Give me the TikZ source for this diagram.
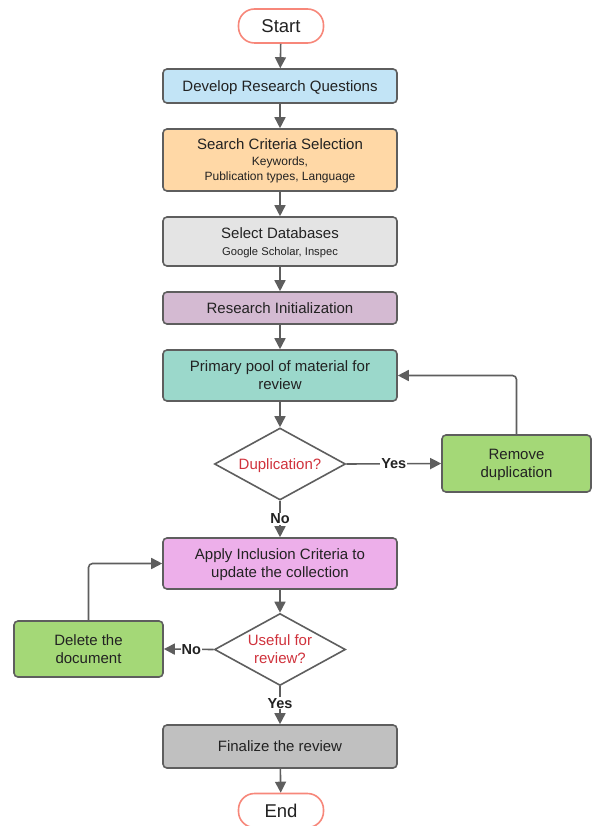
\documentclass[tikz,border=0pt]{standalone}
\usepackage{fontspec}
\setmainfont{Liberation Sans}
\usetikzlibrary{shapes.geometric,arrows.meta}
\definecolor{edgegray}{HTML}{5E5E5E}
\definecolor{txt}{HTML}{222222}
\definecolor{salmon}{HTML}{F7877A}
\definecolor{cblue}{HTML}{C2E4F6}
\definecolor{corange}{HTML}{FFD8A6}
\definecolor{cgray}{HTML}{E4E4E4}
\definecolor{cpurple}{HTML}{D4BAD2}
\definecolor{cteal}{HTML}{9BD8CB}
\definecolor{cgreen}{HTML}{A4D877}
\definecolor{cpink}{HTML}{EDAFEA}
\definecolor{cdark}{HTML}{C0C0C0}
\definecolor{qred}{HTML}{D0323C}
\tikzset{
  procbox/.style={draw=edgegray, line width=1.6pt, rounded corners=4pt, minimum width=234pt, minimum height=#1, inner sep=2pt, text depth=0pt, align=center, text=txt, font=\fontsize{15}{18}\selectfont},
  sidebox/.style={draw=edgegray, fill=cgreen, line width=1.6pt, rounded corners=4pt, minimum width=149pt, minimum height=#1, inner sep=2pt, text depth=0pt, align=center, text=txt, font=\fontsize{15}{18}\selectfont},
  terminal/.style={draw=salmon, fill=white, line width=1.6pt, rounded corners=16pt, minimum width=85pt, minimum height=34pt, inner sep=0pt, text depth=0pt, text=txt, font=\fontsize{18.5}{21}\selectfont},
  decision/.style={diamond, draw=edgegray, fill=white, line width=1.6pt, aspect=1.8, minimum width=131pt, minimum height=72pt, inner sep=0pt, text depth=0pt, align=center, text=qred, font=\fontsize{15}{18}\selectfont},
  flow/.style={draw=edgegray, line width=1.6pt, -{Triangle[length=11pt,width=11pt]}},
  lbl/.style={fill=white, inner sep=1pt, text=txt, font=\bfseries\fontsize{14.5}{16}\selectfont}
}
\begin{document}
\begin{tikzpicture}[x=1pt,y=-1pt]
\useasboundingbox (0,0) rectangle (593,826);
\clip (0,0) rectangle (593,826);
\node[terminal] (start) at (281,26) {Start};
\node[procbox=34pt, fill=cblue] (develop) at (280,86) {Develop Research Questions};
\node[procbox=62pt, fill=corange] (search) at (280,160) {Search Criteria Selection\\[-2pt]{\fontsize{12}{14}\selectfont Keywords,}\\[-3pt]{\fontsize{12}{14}\selectfont Publication types, Language}};
\node[procbox=49pt, fill=cgray] (select) at (280,241.5) {Select Databases\\[-1pt]{\fontsize{11.2}{13}\selectfont Google Scholar, Inspec}};
\node[procbox=32pt, fill=cpurple] (init) at (280,308) {Research Initialization};
\node[procbox=51pt, fill=cteal] (primary) at (280,375.5) {Primary pool of material for\\review};
\node[decision] (dup) at (280,464) {Duplication?};
\node[sidebox=57pt] (remove) at (516.5,463.5) {Remove\\duplication};
\node[procbox=51pt, fill=cpink] (apply) at (280,563.5) {Apply Inclusion Criteria to\\update the collection};
\node[decision] (useful) at (280,649.5) {Useful for\\review?};
\node[sidebox=56pt] (delete) at (88.5,649) {Delete the\\document};
\node[procbox=43pt, fill=cdark] (final) at (280,746.5) {Finalize the review};
\node[terminal] (end) at (281,810.5) {End};

\draw[flow] (start) -- (develop);
\draw[flow] (develop) -- (search);
\draw[flow] (search) -- (select);
\draw[flow] (select) -- (init);
\draw[flow] (init) -- (primary);
\draw[flow] (primary) -- (dup);
\draw[flow] (dup.east) -- node[lbl] (yes1) {Yes} (remove.west);
\draw[flow, rounded corners=4pt] (remove.north) |- (primary.east);
\draw[flow] (dup.south) -- node[lbl, pos=0.5] (no1) {No} (apply.north);
\draw[flow] (apply) -- (useful);
\draw[flow] (useful.west) -- node[lbl, pos=0.45] (no2) {No} (delete.east);
\draw[flow, rounded corners=4pt] (delete.north) |- (apply.west);
\draw[flow] (useful.south) -- node[lbl, pos=0.45] (yes2) {Yes} (final.north);
\draw[flow] (final) -- (end);
\end{tikzpicture}
\end{document}
